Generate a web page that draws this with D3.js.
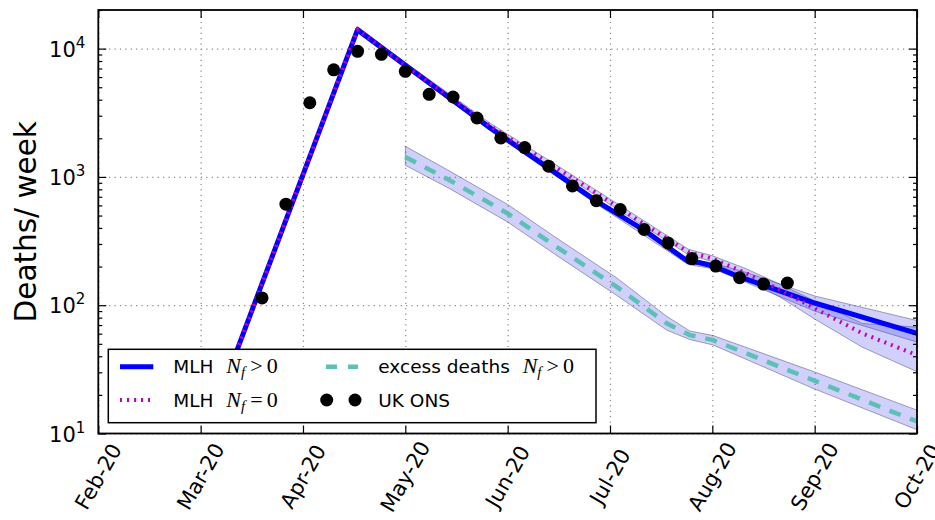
<!DOCTYPE html>
<html>
<head>
<meta charset="utf-8">
<script src="https://cdn.jsdelivr.net/npm/d3@7"></script>
<style>
body { margin: 0; background: #fff; }
svg { display: block; font-family: "DejaVu Sans", sans-serif; }
</style>
</head>
<body>
<div id="chart"></div>
<script>
// x values are days since 1 Feb 2020 (the axis uses 30-day months)
const monthLabels = ["Feb-20", "Mar-20", "Apr-20", "May-20", "Jun-20", "Jul-20", "Aug-20", "Sep-20", "Oct-20"];
const monthDays = [0, 30, 60, 90, 120, 150, 180, 210, 240];
const decades = [10, 100, 1000, 10000];

// UK ONS weekly deaths
const onsDays = [48, 55, 62, 69, 76, 83, 90, 97, 104, 111, 118, 125, 132, 139, 146, 153, 160, 167, 174, 181, 188, 195, 202];
const onsDeaths = [114, 613, 3784, 6839, 9528, 9028, 6656, 4406, 4198, 2880, 2013, 1694, 1212, 851, 653, 557, 389, 306, 231, 202, 164, 146, 149];

// MLH N_f > 0
const mlhDays = [34, 76, 90, 115, 146, 160, 173, 176, 180, 188, 210, 240];
const mlhDeaths = [15.1, 14060, 7413, 2395, 647, 385, 218, 215, 203, 166, 104, 60.3];
const mlhBandDays = [76, 90, 115, 146, 173, 180, 190, 210, 240];
const mlhBandLo = [13300, 7050, 2280, 615, 207, 193, 150, 90, 51.6];
const mlhBandHi = [14800, 7800, 2520, 680, 229, 214, 180, 118, 76];

// MLH N_f = 0
const mlh0Days = [34, 76, 90, 115, 147, 160, 173, 180, 190, 200, 210, 224, 240];
const mlh0Deaths = [15.1, 14060, 7413, 2483, 720, 428, 260, 231, 177, 131, 94.4, 60.3, 40.8];
const mlh0BandDays = [76, 90, 115, 147, 173, 180, 190, 200, 210, 224, 240];
const mlh0BandLo = [13300, 7050, 2360, 685, 247, 219, 160, 115, 78, 47, 30.3];
const mlh0BandHi = [14800, 7800, 2610, 757, 273, 243, 192, 145, 108, 72, 67.5];

// excess deaths N_f > 0
const excessDays = [90, 103, 120, 135, 152, 166.6, 173.4, 180.2, 209.5, 240];
const excessDeaths = [1432, 942, 519, 277, 139, 72.2, 58.5, 53.5, 26.1, 12.4];
const excessLo = [1233, 810, 445, 238, 119, 64, 54, 49, 22.5, 10.7];
const excessHi = [1734, 1110, 610, 325, 163, 82, 63, 58, 30.5, 15.2];

// svg set up
let svgWidth = 935;
let svgHeight = 520;
let margin = { top: 10, right: 18, bottom: 86.5, left: 98.3 };
let width = svgWidth - margin.left - margin.right;
let height = svgHeight - margin.top - margin.bottom;

let svg = d3.select("#chart")
    .append("svg")
    .attr("width", svgWidth)
    .attr("height", svgHeight);

let chartGroup = svg.append("g")
    .attr("transform", `translate(${margin.left},${margin.top})`);

svg.append("defs").append("clipPath")
    .attr("id", "plotclip")
    .append("rect")
    .attr("width", width)
    .attr("height", height);

// scales
let xScale = d3.scaleLinear().domain([0, 240]).range([0, width]);
let yScale = d3.scaleLog().domain([10, 20000]).range([height, 0]);

// minor log ticks
let minorTicks = [];
decades.forEach(dec => {
    for (let k = 2; k <= 9; k++) {
        if (dec * k <= 20000) minorTicks.push(dec * k);
    }
});

// grid
let gridStyle = g => g.selectAll("line")
    .attr("stroke", "#888")
    .attr("stroke-width", 1.2)
    .attr("stroke-dasharray", "1.2,4.2");
chartGroup.append("g")
    .attr("transform", `translate(0,${height})`)
    .call(d3.axisBottom(xScale).tickValues(monthDays).tickSize(-height).tickFormat(""))
    .call(g => g.select(".domain").remove())
    .call(gridStyle);
chartGroup.append("g")
    .call(d3.axisLeft(yScale).tickValues(decades).tickSize(-width).tickFormat(""))
    .call(g => g.select(".domain").remove())
    .call(gridStyle);

let plot = chartGroup.append("g").attr("clip-path", "url(#plotclip)");

// band helper
function band(days, lo, hi) {
    let rows = days.map((d, i) => ({ d: d, lo: lo[i], hi: hi[i] }));
    return d3.area()
        .x(r => xScale(r.d))
        .y0(r => yScale(r.lo))
        .y1(r => yScale(r.hi))(rows);
}
function line(days, vals) {
    let rows = days.map((d, i) => ({ d: d, v: vals[i] }));
    return d3.line()
        .x(r => xScale(r.d))
        .y(r => yScale(r.v))(rows);
}

let bandFill = "rgba(40,40,235,0.22)";
let bandEdge = "rgba(90,90,130,0.55)";
[[mlhBandDays, mlhBandLo, mlhBandHi], [mlh0BandDays, mlh0BandLo, mlh0BandHi], [excessDays, excessLo, excessHi]]
    .forEach(b => {
        plot.append("path")
            .attr("d", band(b[0], b[1], b[2]))
            .attr("fill", bandFill)
            .attr("stroke", bandEdge)
            .attr("stroke-width", 1);
    });

// lines
plot.append("path")
    .attr("d", line(mlhDays, mlhDeaths))
    .attr("fill", "none")
    .attr("stroke", "#0000ff")
    .attr("stroke-width", 5)
    .attr("stroke-linejoin", "round");
plot.append("path")
    .attr("d", line(mlh0Days, mlh0Deaths))
    .attr("fill", "none")
    .attr("stroke", "#c000c0")
    .attr("stroke-width", 4)
    .attr("stroke-dasharray", "2,5");
plot.append("path")
    .attr("d", line(excessDays, excessDeaths))
    .attr("fill", "none")
    .attr("stroke", "#5cc0b5")
    .attr("stroke-width", 4.5)
    .attr("stroke-dasharray", "12,10");

// data points
plot.selectAll("circle.ons")
    .data(onsDays)
    .enter()
    .append("circle")
    .attr("class", "ons")
    .attr("cx", d => xScale(d))
    .attr("cy", (d, i) => yScale(onsDeaths[i]))
    .attr("r", 6.5)
    .attr("fill", "#000");

// ticks on all four sides, pointing inward
let tickStyle = g => g.selectAll("line").attr("stroke", "#000").attr("stroke-width", 1.2);
chartGroup.append("g")
    .attr("transform", `translate(0,${height})`)
    .call(d3.axisBottom(xScale).tickValues(monthDays).tickSize(-8).tickFormat(""))
    .call(g => g.select(".domain").remove()).call(tickStyle);
chartGroup.append("g")
    .call(d3.axisTop(xScale).tickValues(monthDays).tickSize(-8).tickFormat(""))
    .call(g => g.select(".domain").remove()).call(tickStyle);
chartGroup.append("g")
    .call(d3.axisLeft(yScale).tickValues(decades).tickSize(-8).tickFormat(""))
    .call(g => g.select(".domain").remove()).call(tickStyle);
chartGroup.append("g")
    .call(d3.axisLeft(yScale).tickValues(minorTicks).tickSize(-4).tickFormat(""))
    .call(g => g.select(".domain").remove()).call(tickStyle);
chartGroup.append("g")
    .attr("transform", `translate(${width},0)`)
    .call(d3.axisRight(yScale).tickValues(decades).tickSize(-8).tickFormat(""))
    .call(g => g.select(".domain").remove()).call(tickStyle);
chartGroup.append("g")
    .attr("transform", `translate(${width},0)`)
    .call(d3.axisRight(yScale).tickValues(minorTicks).tickSize(-4).tickFormat(""))
    .call(g => g.select(".domain").remove()).call(tickStyle);

// frame
chartGroup.append("rect")
    .attr("width", width)
    .attr("height", height)
    .attr("fill", "none")
    .attr("stroke", "#000")
    .attr("stroke-width", 1.8);

// y tick labels 10^n
let yLabels = chartGroup.selectAll("text.ylab")
    .data(decades)
    .enter()
    .append("text")
    .attr("class", "ylab")
    .attr("x", -13)
    .attr("y", d => yScale(d) + 8)
    .attr("text-anchor", "end")
    .attr("font-size", "21px")
    .attr("fill", "#000");
yLabels.append("tspan").text("10");
yLabels.append("tspan")
    .attr("font-size", "15px")
    .attr("dy", -9)
    .text(d => Math.round(Math.log10(d)));

// x tick labels, rotated and centred under the tick
chartGroup.selectAll("text.xlab")
    .data(monthDays)
    .enter()
    .append("text")
    .attr("class", "xlab")
    .attr("transform", (d) => `translate(${xScale(d)},${height + 43}) rotate(-60)`)
    .attr("text-anchor", "middle")
    .attr("dy", "0.35em")
    .attr("font-size", "21px")
    .attr("fill", "#000")
    .text((d, i) => monthLabels[i]);

// y axis label
svg.append("text")
    .attr("transform", `translate(36,${margin.top + height / 2}) rotate(-90)`)
    .attr("text-anchor", "middle")
    .attr("font-size", "29.5px")
    .attr("fill", "#000")
    .text("Deaths/ week");

// legend
let legend = svg.append("g");
legend.append("rect")
    .attr("x", 108.3)
    .attr("y", 349.3)
    .attr("width", 487.7)
    .attr("height", 73.4)
    .attr("fill", "#fff")
    .attr("stroke", "#000")
    .attr("stroke-width", 1.5);

let row1 = 366.7, row2 = 400;
legend.append("line").attr("x1", 120).attr("x2", 153.3).attr("y1", row1).attr("y2", row1)
    .attr("stroke", "#0000ff").attr("stroke-width", 5);
legend.append("line").attr("x1", 120).attr("x2", 150).attr("y1", row2).attr("y2", row2)
    .attr("stroke", "#c000c0").attr("stroke-width", 4).attr("stroke-dasharray", "2,5");
legend.append("line").attr("x1", 326).attr("x2", 358).attr("y1", row1).attr("y2", row1)
    .attr("stroke", "#5cc0b5").attr("stroke-width", 4.5).attr("stroke-dasharray", "11,11");
legend.selectAll("circle")
    .data([326.7, 355])
    .enter()
    .append("circle")
    .attr("cx", d => d)
    .attr("cy", row2)
    .attr("r", 6.5)
    .attr("fill", "#000");

function legendLabel(x, y, word, rel) {
    let t = legend.append("text")
        .attr("x", x)
        .attr("y", y + 6.5)
        .attr("font-size", "18.5px")
        .attr("fill", "#000");
    t.append("tspan").text(word + " ");
    t.append("tspan")
        .attr("font-family", "'Liberation Serif', serif")
        .attr("font-style", "italic")
        .attr("font-size", "22px")
        .attr("dx", 7)
        .text("N");
    t.append("tspan")
        .attr("font-family", "'Liberation Serif', serif")
        .attr("font-style", "italic")
        .attr("font-size", "15px")
        .attr("dy", 4)
        .text("f");
    t.append("tspan")
        .attr("font-family", "'Liberation Serif', serif")
        .attr("font-size", "22px")
        .attr("dy", -4)
        .attr("dx", 5)
        .text(rel);
    t.append("tspan")
        .attr("font-family", "'Liberation Serif', serif")
        .attr("font-size", "22px")
        .attr("dx", 4)
        .text("0");
}
legendLabel(173.3, row1, "MLH", ">");
legendLabel(173.3, row2, "MLH", "=");
legendLabel(378.3, row1, "excess deaths", ">");

legend.append("text")
    .attr("x", 378.3)
    .attr("y", row2 + 6.5)
    .attr("font-size", "18.5px")
    .attr("fill", "#000")
    .text("UK ONS");
</script>
</body>
</html>
